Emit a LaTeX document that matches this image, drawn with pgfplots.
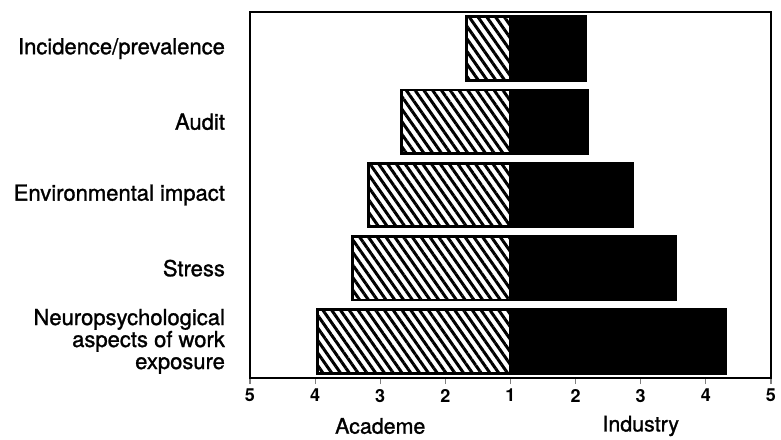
\documentclass[border=0pt]{standalone}
\usepackage{pgfplots}
\usepackage{pgfplotstable}
\pgfplotsset{compat=1.18}
\usepackage{fontspec}
\setmainfont{TeX Gyre Heros}
\newfontfamily\medfont[FakeBold=1.2]{TeX Gyre Heros}
\usetikzlibrary{patterns.meta,calc}

% scores on a 1-5 scale; A = Academe, I = Industry
\pgfplotstableread{
cat A I
0 3.96 4.30
1 3.42 3.53
2 3.18 2.88
3 2.67 2.19
4 1.68 2.15
}\datatable

\begin{document}
\begin{tikzpicture}
\begin{axis}[
    name=ax,
    scale only axis,
    width=260.5pt, height=183pt,
    xmin=-4, xmax=4,
    ymin=-0.5, ymax=4.5,
    xbar, bar width=0.87, bar shift=0pt,
    clip=false,
    axis line style={line width=0.6pt},
    xtick={-4,...,4},
    xticklabels={5,4,3,2,1,2,3,4,5},
    xtick pos=left,
    tick align=outside,
    major tick length=3pt,
    xtick style={line width=0.6pt},
    xticklabel style={font=\fontsize{9}{10}\selectfont\bfseries, yshift=1pt},
    ytick={0,...,4},
    yticklabels={{Neuropsychological\\aspects of work\\exposure},Stress,Environmental impact,Audit,Incidence/prevalence},
    ytick style={draw=none},
    yticklabel style={align=right, font=\fontsize{11}{11}\selectfont\medfont, xshift=-6pt},
  ]
  \addplot[draw=black, line width=1.4pt,
    pattern={Lines[angle=-55,distance=3.6pt,line width=1.5pt]}]
    table[x expr={1-\thisrow{A}}, y=cat] {\datatable};
  \addplot[draw=black, fill=black, line width=1.4pt]
    table[x expr={\thisrow{I}-1}, y=cat] {\datatable};
  \node[font=\fontsize{10.7}{12}\selectfont\medfont, yshift=-24pt] at (axis cs:-2,-0.5) {Academe};
  \node[font=\fontsize{10.7}{12}\selectfont\medfont, yshift=-24pt] at (axis cs:2,-0.5) {Industry};
\end{axis}
\pgfresetboundingbox
\useasboundingbox ($(ax.south west)+(-125pt,-30.5pt)$) rectangle ($(ax.north east)+(5pt,6pt)$);
\end{tikzpicture}
\end{document}
